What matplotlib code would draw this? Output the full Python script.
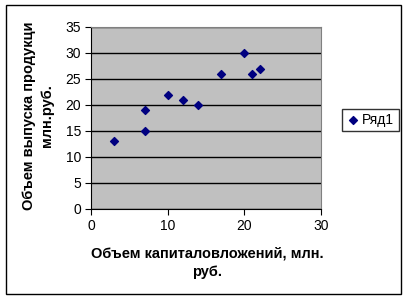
import matplotlib.pyplot as plt
from matplotlib.patches import Rectangle

plt.rcParams["font.family"] = ["Liberation Sans", "DejaVu Sans"]

investment = [3, 7, 7, 10, 12, 14, 17, 20, 21, 22]
output = [13, 15, 19, 22, 21, 20, 26, 30, 26, 27]
series_name = "Ряд1"
x_title = "Объем капиталовложений, млн.\nруб."
y_title = "Объем выпуска продукци\nмлн.руб."

W, H = 408, 300
fig = plt.figure(figsize=(W / 100, H / 100), dpi=100)
fig.patch.set_facecolor("white")

# outer chart frame
fig.patches.append(Rectangle((6 / W, 6 / H), 395 / W, 289 / H, transform=fig.transFigure,
                             fill=False, edgecolor="black", linewidth=1))

ax = fig.add_axes([91 / W, (H - 209) / H, 230 / W, 182 / H])
ax.set_facecolor("#c0c0c0")
ax.scatter(investment, output, marker="D", s=16, color="#000080", zorder=3, label=series_name)

ax.set_xlim(0, 30)
ax.set_ylim(0, 35)
ax.set_xticks(range(0, 31, 10))
ax.set_yticks(range(0, 36, 5))
ax.yaxis.grid(True, color="black", linewidth=1)
ax.set_axisbelow(True)
for side in ("top", "right"):
    ax.spines[side].set_color("#808080")
for side in ("left", "bottom"):
    ax.spines[side].set_color("black")
ax.tick_params(direction="out", length=4, color="black", labelsize=10, pad=3)

fig.text(207 / W, 1 - 263 / H, x_title, ha="center", va="center",
         fontsize=10.5, fontweight="bold", linespacing=1.45)
fig.text(38 / W, 1 - 116 / H, y_title, ha="center", va="center", rotation=90,
         fontsize=10.5, fontweight="bold", linespacing=1.45)

leg = fig.legend(loc="center", bbox_to_anchor=(370 / W, 1 - 120 / H), fontsize=10,
                 frameon=True, fancybox=False, edgecolor="black", handletextpad=0.2,
                 borderpad=0.3, handlelength=1.0, markerscale=1.0)
leg.get_frame().set_linewidth(1)

fig.savefig("out.png", dpi=100)
